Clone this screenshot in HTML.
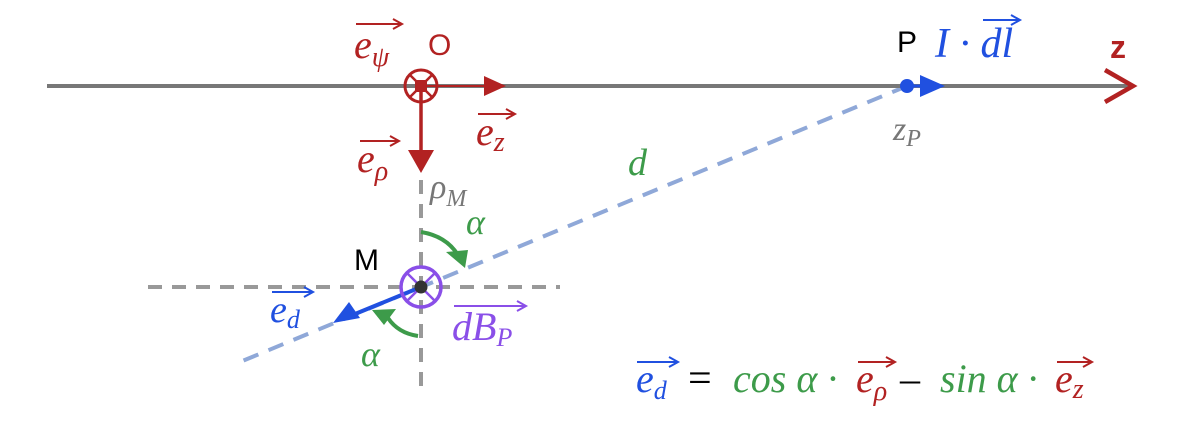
<!DOCTYPE html>
<html><head><style>
html,body{margin:0;padding:0;background:#fff;width:1200px;height:422px;overflow:hidden}
text{font-family:"Liberation Serif",serif;font-style:italic}
.s{font-family:"Liberation Sans",sans-serif;font-style:normal}
</style></head><body>
<svg width="1200" height="422" viewBox="0 0 1200 422" xmlns="http://www.w3.org/2000/svg">
<!-- dashed guides -->
<line x1="421" y1="180" x2="421" y2="388" stroke="#999" stroke-width="4" stroke-dasharray="14,10"/>
<line x1="148" y1="287" x2="560" y2="287" stroke="#999" stroke-width="4" stroke-dasharray="14,10"/>
<line x1="907" y1="86" x2="240" y2="362" stroke="#8fa8d8" stroke-width="4" stroke-dasharray="16,11"/>
<!-- axis -->
<line x1="47" y1="86" x2="1132" y2="86" stroke="#777" stroke-width="4"/>
<polyline points="1105,70 1133,86 1105,102" fill="none" stroke="#b22222" stroke-width="4.5"/>
<text x="1110" y="58" class="s" font-size="32" font-weight="bold" fill="#b22222">z</text>
<!-- O -->
<line x1="421" y1="86" x2="503" y2="86" stroke="#b22222" stroke-width="2"/>
<path d="M484,76 L506,86 L484,96z" fill="#b22222"/>
<line x1="421" y1="86" x2="421" y2="152" stroke="#b22222" stroke-width="3.5"/>
<path d="M408,150 L434,150 L421,173z" fill="#b22222"/>
<circle cx="421" cy="86" r="16" fill="none" stroke="#b22222" stroke-width="3"/>
<line x1="410" y1="75" x2="432" y2="97" stroke="#b22222" stroke-width="2.5"/>
<line x1="432" y1="75" x2="410" y2="97" stroke="#b22222" stroke-width="2.5"/>
<rect x="415" y="80" width="12" height="12" fill="#b22222"/>
<text x="354" y="58" font-size="40" fill="#b22222">e<tspan font-size="28" dy="8">ψ</tspan></text>
<line x1="356" y1="24" x2="400" y2="24" stroke="#b22222" stroke-width="2"/><path d="M393,19 L402,24 L393,29" fill="none" stroke="#b22222" stroke-width="2"/>
<text x="428" y="55" class="s" font-size="30" fill="#b22222">O</text>
<text x="476" y="145" font-size="40" fill="#b22222">e<tspan font-size="28" dy="6">z</tspan></text>
<line x1="478" y1="114" x2="513" y2="114" stroke="#b22222" stroke-width="2"/><path d="M506,109 L515,114 L506,119" fill="none" stroke="#b22222" stroke-width="2"/>
<text x="357" y="172" font-size="40" fill="#b22222">e<tspan font-size="28" dy="8">ρ</tspan></text>
<line x1="360" y1="141" x2="397" y2="141" stroke="#b22222" stroke-width="2"/><path d="M390,136 L399,141 L390,146" fill="none" stroke="#b22222" stroke-width="2"/>
<text x="430" y="198" font-size="34" fill="#777">ρ<tspan font-size="24" dy="8">M</tspan></text>
<!-- P -->
<text x="897" y="52" class="s" font-size="30" fill="#000">P</text>
<text x="935" y="57" font-size="42" fill="#2050e0">I · dl</text>
<line x1="983" y1="20" x2="1018" y2="20" stroke="#2050e0" stroke-width="2"/><path d="M1011,15 L1020,20 L1011,25" fill="none" stroke="#2050e0" stroke-width="2"/>
<line x1="907" y1="86" x2="925" y2="86" stroke="#2050e0" stroke-width="3"/>
<path d="M920,75 L945,86 L920,97z" fill="#2050e0"/>
<circle cx="907" cy="86" r="7" fill="#2050e0"/>
<text x="893" y="140" font-size="34" fill="#777">z<tspan font-size="24" dy="6">P</tspan></text>
<text x="628" y="175" font-size="38" fill="#3d9b4a">d</text>
<!-- M -->
<text x="354" y="270" class="s" font-size="30" fill="#000">M</text>
<line x1="421" y1="287" x2="355" y2="314" stroke="#2050e0" stroke-width="4"/>
<path d="M333,323 L349,302 L360,318z" fill="#2050e0"/>
<circle cx="421" cy="287" r="20" fill="none" stroke="#8a4fe8" stroke-width="3.5"/>
<line x1="407" y1="273" x2="435" y2="301" stroke="#8a4fe8" stroke-width="2.5"/>
<line x1="435" y1="273" x2="407" y2="301" stroke="#8a4fe8" stroke-width="2.5"/>
<circle cx="421" cy="287" r="6.5" fill="#333"/>
<text x="270" y="322" font-size="38" fill="#2050e0">e<tspan font-size="26" dy="6">d</tspan></text>
<line x1="272" y1="292" x2="311" y2="292" stroke="#2050e0" stroke-width="2"/><path d="M304,287 L313,292 L304,297" fill="none" stroke="#2050e0" stroke-width="2"/>
<text x="452" y="340" font-size="40" fill="#8a4fe8">dB<tspan font-size="26" dy="6">P</tspan></text>
<line x1="454" y1="306" x2="524" y2="306" stroke="#8a4fe8" stroke-width="2"/><path d="M517,301 L526,306 L517,311" fill="none" stroke="#8a4fe8" stroke-width="2"/>
<!-- angles -->
<path d="M421,232 Q446,236 458,255" fill="none" stroke="#3d9b4a" stroke-width="4"/>
<path d="M446,252 L468,250 L465,268z" fill="#3d9b4a"/>
<path d="M418,336 Q398,333 388,318" fill="none" stroke="#3d9b4a" stroke-width="4"/>
<path d="M372,310 L396,309 L384,325z" fill="#3d9b4a"/>
<text x="466" y="234" font-size="36" fill="#3d9b4a">α</text>
<text x="361" y="366" font-size="36" fill="#3d9b4a">α</text>
<!-- equation -->
<text x="636" y="392" font-size="40" fill="#2050e0">e<tspan font-size="26" dy="7">d</tspan></text>
<line x1="637" y1="362" x2="676" y2="362" stroke="#2050e0" stroke-width="2"/><path d="M669,357 L678,362 L669,367" fill="none" stroke="#2050e0" stroke-width="2"/>
<text x="688" y="392" font-size="42" style="font-style:normal" fill="#000">=</text>
<text x="733" y="392" font-size="40" fill="#3d9b4a">cos α ·</text>
<text x="856" y="392" font-size="40" fill="#b22222">e<tspan font-size="28" dy="8">ρ</tspan></text>
<line x1="858" y1="362" x2="893" y2="362" stroke="#b22222" stroke-width="2"/><path d="M886,357 L895,362 L886,367" fill="none" stroke="#b22222" stroke-width="2"/>
<text x="900" y="392" font-size="40" style="font-style:normal" fill="#000">–</text>
<text x="940" y="392" font-size="40" fill="#3d9b4a">sin α ·</text>
<text x="1055" y="392" font-size="40" fill="#b22222">e<tspan font-size="28" dy="6">z</tspan></text>
<line x1="1057" y1="362" x2="1090" y2="362" stroke="#b22222" stroke-width="2"/><path d="M1083,357 L1092,362 L1083,367" fill="none" stroke="#b22222" stroke-width="2"/>
</svg>
</body></html>
